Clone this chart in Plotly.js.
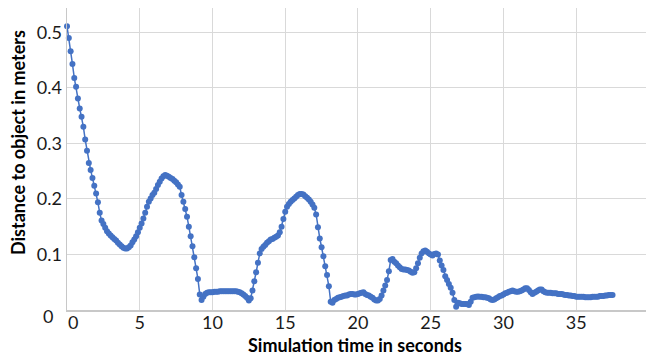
<!DOCTYPE html>
<html>
<head>
<meta charset="utf-8">
<script src="https://cdn.plot.ly/plotly-3.0.1.min.js"></script>
<style>html,body{margin:0;padding:0;background:#fff;}#chart{width:646px;height:356px;}</style>
</head>
<body>
<div id="chart"></div>
<script>
var timeSeconds = [
0,0.125,0.25,0.375,0.5,0.625,0.75,0.875,
1,1.125,1.25,1.375,1.5,1.625,1.75,1.875,
2,2.125,2.25,2.375,2.5,2.625,2.75,2.875,
3,3.125,3.25,3.375,3.5,3.625,3.75,3.875,
4,4.125,4.25,4.375,4.5,4.625,4.75,4.875,
5,5.125,5.25,5.375,5.5,5.625,5.75,5.875,
6,6.125,6.25,6.375,6.5,6.625,6.75,6.875,
7,7.125,7.25,7.375,7.5,7.625,7.75,7.875,
8,8.125,8.25,8.375,8.5,8.625,8.75,8.875,
9,9.125,9.25,9.375,9.5,9.625,9.75,9.875,
10,10.125,10.25,10.375,10.5,10.625,10.75,10.875,
11,11.125,11.25,11.375,11.5,11.625,11.75,11.875,
12,12.125,12.25,12.375,12.5,12.625,12.75,12.875,
13,13.125,13.25,13.375,13.5,13.625,13.75,13.875,
14,14.125,14.25,14.375,14.5,14.625,14.75,14.875,
15,15.125,15.25,15.375,15.5,15.625,15.75,15.875,
16,16.125,16.25,16.375,16.5,16.625,16.75,16.875,
17,17.125,17.25,17.375,17.5,17.625,17.75,17.875,
18,18.125,18.25,18.375,18.5,18.625,18.75,18.875,
19,19.125,19.25,19.375,19.5,19.625,19.75,19.875,
20,20.125,20.25,20.375,20.5,20.625,20.75,20.875,
21,21.125,21.25,21.375,21.5,21.625,21.75,21.875,
22,22.125,22.25,22.375,22.5,22.625,22.75,22.875,
23,23.125,23.25,23.375,23.5,23.625,23.75,23.875,
24,24.125,24.25,24.375,24.5,24.625,24.75,24.875,
25,25.125,25.25,25.375,25.5,25.625,25.75,25.875,
26,26.125,26.25,26.375,26.5,26.625,26.75,26.875,
27,27.125,27.25,27.375,27.5,27.625,27.75,27.875,
28,28.125,28.25,28.375,28.5,28.625,28.75,28.875,
29,29.125,29.25,29.375,29.5,29.625,29.75,29.875,
30,30.125,30.25,30.375,30.5,30.625,30.75,30.875,
31,31.125,31.25,31.375,31.5,31.625,31.75,31.875,
32,32.125,32.25,32.375,32.5,32.625,32.75,32.875,
33,33.125,33.25,33.375,33.5,33.625,33.75,33.875,
34,34.125,34.25,34.375,34.5,34.625,34.75,34.875,
35,35.125,35.25,35.375,35.5,35.625,35.75,35.875,
36,36.125,36.25,36.375,36.5,36.625,36.75,36.875,
37,37.125,37.25,37.375,37.5
];
var distanceMeters = [
0.511,0.490,0.466,0.443,0.418,0.402,0.381,0.363,
0.348,0.330,0.307,0.287,0.265,0.252,0.238,0.224,
0.210,0.194,0.175,0.161,0.155,0.148,0.142,0.138,
0.134,0.131,0.128,0.125,0.121,0.118,0.115,0.112,
0.111,0.111,0.113,0.116,0.122,0.127,0.133,0.140,
0.148,0.156,0.165,0.175,0.186,0.195,0.201,0.207,
0.211,0.218,0.225,0.231,0.237,0.241,0.243,0.242,
0.240,0.238,0.236,0.233,0.230,0.226,0.222,0.207,
0.195,0.182,0.168,0.150,0.133,0.115,0.095,0.075,
0.056,0.028,0.018,0.024,0.029,0.031,0.032,0.032,
0.032,0.033,0.033,0.033,0.034,0.034,0.034,0.034,
0.034,0.034,0.034,0.034,0.034,0.034,0.033,0.032,
0.030,0.028,0.025,0.022,0.017,0.021,0.035,0.052,
0.068,0.085,0.102,0.110,0.114,0.117,0.121,0.124,
0.127,0.128,0.130,0.132,0.134,0.140,0.150,0.164,
0.177,0.186,0.191,0.195,0.198,0.201,0.204,0.207,
0.209,0.209,0.208,0.205,0.202,0.199,0.195,0.190,
0.184,0.172,0.149,0.129,0.113,0.097,0.079,0.063,
0.043,0.015,0.013,0.018,0.020,0.022,0.023,0.024,
0.025,0.026,0.026,0.028,0.029,0.029,0.028,0.028,
0.029,0.030,0.031,0.032,0.029,0.027,0.026,0.024,
0.022,0.019,0.017,0.017,0.020,0.026,0.035,0.044,
0.054,0.070,0.090,0.092,0.087,0.084,0.080,0.077,
0.074,0.073,0.073,0.072,0.071,0.069,0.067,0.068,
0.075,0.084,0.094,0.102,0.106,0.107,0.105,0.102,
0.100,0.098,0.101,0.102,0.100,0.089,0.080,0.072,
0.061,0.054,0.047,0.040,0.031,0.018,0.006,0.013,
0.012,0.011,0.011,0.011,0.011,0.009,0.015,0.022,
0.023,0.024,0.0245,0.024,0.024,0.023,0.023,0.022,
0.021,0.019,0.018,0.019,0.021,0.023,0.025,0.026,
0.028,0.030,0.031,0.033,0.034,0.035,0.034,0.033,
0.033,0.034,0.035,0.037,0.039,0.039,0.036,0.032,
0.029,0.031,0.033,0.035,0.037,0.037,0.034,0.032,
0.031,0.031,0.031,0.030,0.030,0.030,0.029,0.029,
0.029,0.028,0.027,0.027,0.026,0.026,0.025,0.025,
0.024,0.024,0.024,0.024,0.024,0.023,0.023,0.023,
0.023,0.024,0.024,0.024,0.024,0.025,0.025,0.025,
0.026,0.026,0.027,0.027,0.027
];
var xTickVals = [5,10,15,20,25,30,35];
var xTickText = ["5","10","15","20","25","30","35"];
var yTickVals = [0.1,0.2,0.3,0.4,0.5];
var yTickText = ["0.1","0.2","0.3","0.4","0.5"];
var zeroLabel = "0";
var xTitle = "Simulation time in seconds";
var yTitle = "Distance to object in meters";

var FONT = "Lato, 'Open Sans', sans-serif";
var TICKSIZE = 18;
var TITLESIZE = 18;
var PL = 67, PW = 579, PT = 8, PH = 302;
function px(xp){ return (xp - PL) / PW; }
function py(yp){ return (PT + PH - yp) / PH; }

var trace = {
  x: timeSeconds,
  y: distanceMeters,
  type: "scatter",
  mode: "lines+markers",
  line: {color: "#4472C4", width: 1.5},
  marker: {color: "#4472C4", size: 6},
  cliponaxis: false,
  hoverinfo: "skip"
};
var layout = {
  width: 646, height: 356,
  margin: {l: PL, r: 0, t: PT, b: 356 - PT - PH, pad: 0},
  paper_bgcolor: "#ffffff",
  plot_bgcolor: "#ffffff",
  showlegend: false,
  font: {family: FONT, size: TICKSIZE, color: "#1a1a1a"},
  xaxis: {
    range: [0, 39.8],
    tickmode: "array", tickvals: xTickVals, ticktext: xTickText,
    showgrid: true, gridcolor: "#d9d9d9", gridwidth: 1,
    zeroline: false,
    showline: true, linecolor: "#c8c8c8", linewidth: 1.5,
    ticks: "", ticklabelstandoff: -4,
    tickfont: {family: FONT, size: TICKSIZE, color: "#1a1a1a"}
  },
  yaxis: {
    range: [0, 0.544],
    tickmode: "array", tickvals: yTickVals, ticktext: yTickText,
    showgrid: true, gridcolor: "#d9d9d9", gridwidth: 1,
    zeroline: false,
    showline: true, linecolor: "#c8c8c8", linewidth: 1.5,
    ticks: "",
    tickfont: {family: FONT, size: TICKSIZE, color: "#1a1a1a"}
  },
  annotations: [
    {text: zeroLabel, xref: "paper", yref: "paper", x: px(48), y: py(316),
     xanchor: "center", yanchor: "middle", showarrow: false,
     font: {family: FONT, size: TICKSIZE, color: "#1a1a1a"}},
    {text: zeroLabel, xref: "paper", yref: "paper", x: px(72.5), y: py(322),
     xanchor: "center", yanchor: "middle", showarrow: false,
     font: {family: FONT, size: TICKSIZE, color: "#1a1a1a"}},
    {text: "<b>" + xTitle + "</b>", xref: "paper", yref: "paper", x: px(354.5), y: py(344.5),
     xanchor: "center", yanchor: "middle", showarrow: false,
     font: {family: FONT, size: TITLESIZE, color: "#000"}},
    {text: "<b>" + yTitle + "</b>", xref: "paper", yref: "paper", x: px(17.5), y: py(142.5),
     xanchor: "center", yanchor: "middle", showarrow: false, textangle: -90,
     font: {family: FONT, size: TITLESIZE, color: "#000"}}
  ]
};
Plotly.newPlot("chart", [trace], layout, {displayModeBar: false, staticPlot: true});
</script>
</body>
</html>
